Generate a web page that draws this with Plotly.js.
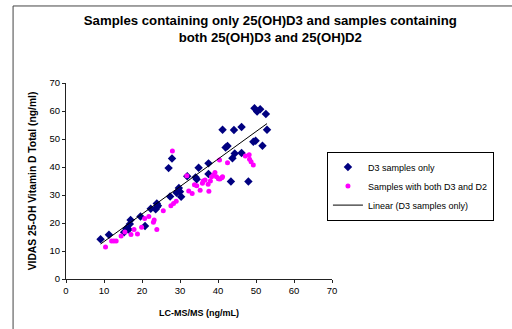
<!DOCTYPE html>
<html>
<head>
<meta charset="utf-8">
<script src="https://cdn.plot.ly/plotly-3.0.1.min.js"></script>
<style>html,body{margin:0;padding:0;background:#fff;}#chart{width:512px;height:329px;}</style>
</head>
<body>
<div id="chart"></div>
<script>
// D3 samples only
const d3X = [9.1, 11.3, 15.3, 15.9, 16.5, 16.8, 17.0, 19.6, 20.8, 22.3, 23.6, 23.9, 23.9, 24.2,
  27.0, 27.9, 27.4, 29.1, 29.7, 30.0, 30.3, 31.9, 34.4, 34.1, 34.9, 37.5, 37.5,
  42.0, 42.5, 41.2, 43.4, 43.8, 44.4, 44.2, 46.2, 46.2, 48.0, 49.3, 49.9, 49.6, 50.3, 51.1, 51.7, 52.6, 52.9];
const d3Y = [14.2, 15.8, 16.7, 18.0, 17.7, 19.6, 21.1, 22.3, 18.9, 25.1, 24.9, 25.6, 27.0, 26.2,
  39.6, 43.0, 29.5, 30.8, 32.5, 31.2, 29.4, 36.7, 35.6, 36.3, 39.7, 37.5, 41.3,
  47.0, 47.5, 53.3, 34.8, 43.1, 44.8, 53.2, 45.0, 54.3, 34.8, 49.0, 49.4, 61.0, 59.8, 60.6, 47.6, 58.9, 53.3];
// Samples with both D3 and D2
const d2X = [10.4, 12.0, 12.6, 13.2, 14.5, 15.5, 17.1, 17.9, 18.8, 19.9, 20.7, 21.8, 23.0, 23.2, 23.9,
  25.6, 27.6, 28.3, 29.0, 28.0, 31.8, 32.3, 33.2, 33.8, 34.4, 35.3, 35.9, 36.1, 36.6, 37.4, 37.6, 38.0,
  38.3, 38.8, 39.2, 39.6, 40.1, 40.5, 41.0, 41.2, 40.4, 42.5, 47.2, 48.2, 48.3, 48.7, 49.3];
const d2Y = [11.4, 13.6, 13.6, 13.6, 15.4, 16.8, 15.9, 17.7, 16.1, 18.5, 21.6, 22.3, 20.3, 21.1, 17.7,
  24.4, 26.2, 27.0, 27.8, 45.7, 36.9, 31.4, 30.5, 33.7, 33.3, 31.7, 34.2, 35.0, 35.4, 33.8, 31.3, 35.0,
  36.5, 37.1, 38.0, 36.5, 35.8, 35.7, 36.2, 36.5, 42.5, 41.5, 43.9, 44.4, 42.8, 41.9, 40.7];
const xTicks = [0, 10, 20, 30, 40, 50, 60, 70];
const yTicks = [0, 10, 20, 30, 40, 50, 60, 70];

// least-squares fit of D3 samples (Excel linear trendline)
function fit(xs, ys) {
  const n = xs.length;
  let sx = 0, sy = 0, sxx = 0, sxy = 0;
  for (let i = 0; i < n; i++) { sx += xs[i]; sy += ys[i]; sxx += xs[i]*xs[i]; sxy += xs[i]*ys[i]; }
  const m = (n*sxy - sx*sy) / (n*sxx - sx*sx);
  return {m: m, b: (sy - m*sx)/n};
}
const f = fit(d3X, d3Y);
const tX = [Math.min(...d3X), Math.max(...d3X)];
const tY = tX.map(x => f.m*x + f.b);

const FONT = 'Liberation Sans, Arial, sans-serif';
const traces = [
  {x: d3X, y: d3Y, type: 'scatter', mode: 'markers', name: 'D3 samples only',
   marker: {symbol: 'diamond', size: 6.5, color: '#000080'}},
  {x: d2X, y: d2Y, type: 'scatter', mode: 'markers', name: 'Samples with both D3 and D2',
   marker: {symbol: 'circle', size: 5, color: '#FF00FF'}},
  {x: tX, y: tY, type: 'scatter', mode: 'lines', name: 'Linear (D3 samples only)',
   line: {color: '#000000', width: 1}}
];
const layout = {
  width: 512, height: 329,
  margin: {l: 66, r: 180, t: 83, b: 50},
  paper_bgcolor: '#ffffff', plot_bgcolor: '#ffffff',
  font: {family: FONT, size: 9, color: '#000'},
  title: {text: '<b>Samples containing only 25(OH)D3 and samples containing<br>both 25(OH)D3 and 25(OH)D2</b>',
    font: {family: FONT, size: 13.2, color: '#000'}, xref: 'container', x: 0.528, xanchor: 'center',
    yref: 'container', y: 0.925, yanchor: 'top'},
  xaxis: {range: [0, 70], tickvals: xTicks, ticktext: xTicks.map(String), showgrid: false, zeroline: false,
    showline: true, linecolor: '#222', linewidth: 1, ticks: 'outside', ticklen: 3, tickcolor: '#222',
    tickfont: {size: 9.5}, fixedrange: true,
    title: {text: '<b>LC-MS/MS (ng/mL)</b>', font: {size: 9}, standoff: 14}},
  yaxis: {range: [0, 70], tickvals: yTicks, ticktext: yTicks.map(String), showgrid: false, zeroline: false,
    showline: true, linecolor: '#222', linewidth: 1, ticks: 'outside', ticklen: 3, tickcolor: '#222',
    tickfont: {size: 9.5}, fixedrange: true,
    title: {text: '<b>VIDAS 25-OH Vitamin D Total (ng/ml)</b>', font: {size: 10.3}, standoff: 10}},
  legend: {x: 0.981, y: 0.65, xanchor: 'left', yanchor: 'top', bordercolor: '#000', borderwidth: 1,
    bgcolor: '#fff', font: {size: 9, family: FONT}, tracegroupgap: 0},
  shapes: [{type: 'rect', xref: 'paper', yref: 'paper', x0: -0.199, x1: 1.8, y0: -0.4, y1: 1.393,
    line: {color: '#444', width: 1}, fillcolor: 'rgba(0,0,0,0)', layer: 'below'}],
  showlegend: true
};
Plotly.newPlot('chart', traces, layout, {displayModeBar: false, staticPlot: true});
</script>
</body>
</html>
